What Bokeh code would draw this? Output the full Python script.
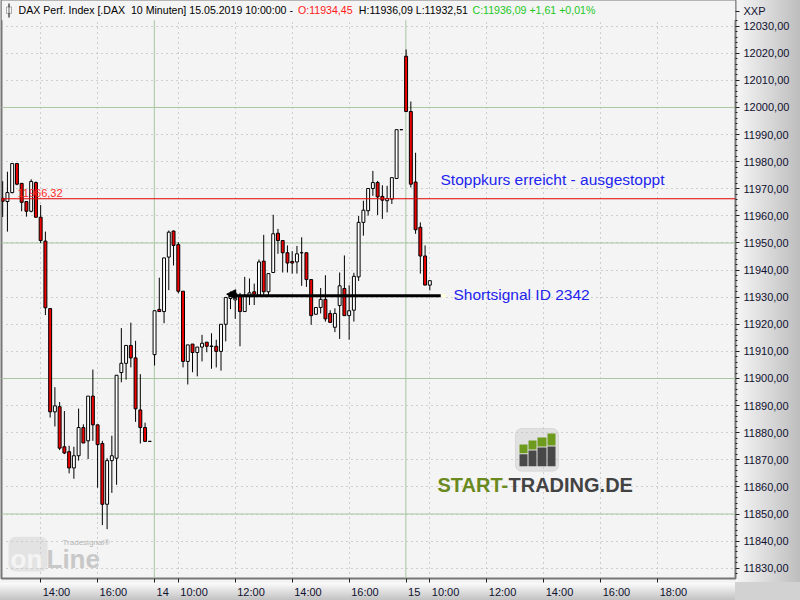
from bokeh.plotting import figure
from bokeh.models import (Range1d, LinearAxis, FixedTicker, Span, Label, BoxAnnotation,
                          ColumnDataSource, Arrow, NormalHead)
from bokeh.embed import file_html
from bokeh.resources import INLINE

# ---------------------------------------------------------------------------
# DAX Perf. Index, 10-minute bars, 13.05.2019 12:40 -> 15.05.2019 10:00
# (bar slots run on without overnight gaps)
# ---------------------------------------------------------------------------
opens = [11966.5, 11965.3, 11968.6, 11979.3, 11972.0, 11965.3, 11961.7, 11972.3, 11959.5, 11950.7,
         11925.8, 11887.7, 11889.6, 11874.8, 11873.0, 11867.0, 11871.5, 11881.9, 11877.0, 11893.5,
         11882.9, 11876.0, 11853.6, 11869.7, 11870.6, 11902.2, 11905.6, 11912.2, 11907.6, 11888.4,
         11881.9, 11876.8,
         11908.8, 11925.5, 11924.7, 11944.8, 11954.4, 11949.4, 11932.2, 11906.3, 11912.7, 11909.6,
         11911.6, 11913.4, 11911.8, 11911.9, 11910.0, 11920.0, 11929.5, 11929.0, 11930.4, 11924.7,
         11930.2, 11932.0, 11930.7, 11943.3, 11932.0, 11939.1, 11953.6, 11950.9, 11946.4, 11943.2,
         11943.0, 11946.4, 11946.4, 11936.5, 11923.7, 11926.2, 11929.2, 11924.0, 11918.9, 11926.9,
         11933.2, 11923.2, 11925.2, 11937.5, 11957.6, 11961.9, 11970.1, 11972.3, 11967.2, 11965.6,
         11966.2, 11973.8, 11991.8,
         12018.9, 11998.5, 11972.5, 11955.8, 11945.2, 11934.45]
highs = [11972.8, 11976.3, 11979.3, 11979.3, 11972.0, 11965.3, 11973.5, 11972.7, 11964.0, 11954.2,
         11925.8, 11896.8, 11891.3, 11888.0, 11875.2, 11874.8, 11888.9, 11883.1, 11893.5, 11903.3,
         11882.9, 11877.0, 11870.6, 11878.9, 11901.2, 11918.6, 11912.2, 11920.6, 11913.9, 11901.6,
         11883.7, 11876.8,
         11925.0, 11937.2, 11944.5, 11954.6, 11954.6, 11950.3, 11932.2, 11912.4, 11912.7, 11911.6,
         11916.1, 11913.4, 11916.7, 11914.3, 11920.0, 11929.9, 11932.1, 11932.5, 11931.6, 11937.5,
         11936.9, 11935.0, 11943.9, 11953.0, 11938.7, 11960.4, 11955.2, 11950.9, 11949.1, 11947.0,
         11948.9, 11952.1, 11946.4, 11936.5, 11926.2, 11933.4, 11938.1, 11925.2, 11925.9, 11939.1,
         11945.4, 11934.4, 11939.0, 11960.0, 11965.6, 11970.1, 11976.6, 11972.9, 11971.3, 11971.1,
         11974.1, 11991.8, 11991.8,
         12021.4, 12002.2, 11983.3, 11957.6, 11949.1, 11936.09]
lows = [11959.6, 11954.2, 11968.3, 11971.3, 11961.7, 11959.7, 11961.3, 11959.5, 11950.0, 11923.4,
        11885.6, 11882.3, 11873.6, 11872.1, 11865.0, 11863.0, 11869.7, 11876.2, 11870.3, 11877.0,
        11859.7, 11845.9, 11844.4, 11857.8, 11860.8, 11898.6, 11899.6, 11904.1, 11884.0, 11876.0,
        11876.8, 11876.8,
        11904.8, 11924.7, 11920.4, 11932.6, 11941.7, 11931.4, 11904.1, 11897.8, 11902.3, 11900.8,
        11906.3, 11909.7, 11903.6, 11904.1, 11902.9, 11913.7, 11925.6, 11922.0, 11911.9, 11924.7,
        11927.1, 11927.1, 11930.7, 11930.7, 11930.7, 11939.1, 11946.0, 11939.1, 11939.1, 11938.7,
        11938.7, 11934.2, 11933.8, 11919.8, 11923.7, 11924.0, 11921.0, 11920.7, 11917.1, 11914.6,
        11923.2, 11914.3, 11921.0, 11936.0, 11952.7, 11960.1, 11967.4, 11960.3, 11958.9, 11961.3,
        11964.4, 11973.8, 11991.8,
        11998.5, 11970.5, 11953.4, 11938.7, 11934.4, 11932.51]
closes = [11965.4, 11968.6, 11979.3, 11971.7, 11965.0, 11961.7, 11972.7, 11959.5, 11950.9, 11926.1,
          11887.7, 11889.9, 11874.3, 11872.5, 11867.0, 11871.5, 11881.9, 11876.2, 11893.5, 11882.9,
          11875.6, 11853.6, 11869.7, 11871.5, 11901.2, 11905.6, 11912.2, 11907.6, 11888.8, 11881.9,
          11876.8, 11876.8,
          11925.0, 11924.7, 11944.5, 11954.0, 11949.1, 11932.2, 11906.3, 11912.4, 11909.6, 11911.6,
          11913.0, 11911.9, 11912.0, 11910.0, 11920.0, 11929.9, 11930.7, 11931.5, 11924.7, 11930.4,
          11931.6, 11931.1, 11943.0, 11932.0, 11938.7, 11953.4, 11950.9, 11946.4, 11942.6, 11942.6,
          11946.0, 11946.4, 11936.5, 11923.2, 11926.2, 11929.2, 11922.0, 11920.7, 11924.0, 11934.2,
          11923.2, 11925.0, 11937.7, 11957.6, 11962.1, 11970.1, 11972.3, 11967.0, 11965.8, 11966.4,
          11974.1, 11991.8, 11991.8,
          11998.5, 11971.7, 11954.9, 11945.2, 11934.48, 11936.09]
slots = list(range(len(opens)))

# time axis (bar slots) and its labels
tick_slots = [8, 20, 32, 37, 49, 61, 73, 85, 90, 102, 114, 126, 138]
tick_labels = ["14:00", "16:00", "14", "10:00", "12:00", "14:00", "16:00", "15",
               "10:00", "12:00", "14:00", "16:00", "18:00"]
day_starts = [32, 85]

# price axis
price_ticks = list(range(11830, 12031, 10))
price_minor = [v for v in range(11828, 12033, 2) if v % 10]
major_levels = [11850, 11900, 11950, 12000]
unit_label = "XXP"

# trade marks
stop_level = 11966.32
short_level = 11930.5
short_from = 47.6
short_to = 92.3

# ---------------------------------------------------------------------------
W, H = 800, 600
FRAME_L, FRAME_T, FRAME_R, FRAME_B = 1, 0, 735, 582
PX_SLOT = 4.746
PX_PT = 2.729
X0 = -0.25
X1 = X0 + (FRAME_R - FRAME_L) / PX_SLOT
Y1 = 12039.47
Y0 = Y1 - (FRAME_B - FRAME_T) / PX_PT


def px_x(px):
    return X0 + (px - FRAME_L) / PX_SLOT


def px_y(py):
    return Y1 - (py - FRAME_T) / PX_PT


def de(v):
    return f"{v:.2f}".replace(".", ",")


FONT = "Liberation Sans"
BG = "#f4f4f4"
GREEN_GRID = "#a9c6a1"
AXIS_TEXT = "#101030"

p = figure(width=W, height=H, x_range=Range1d(X0, X1), y_range=Range1d(Y0, Y1),
           output_backend="svg", toolbar_location=None, x_axis_location=None,
           y_axis_location="right",
           min_border_left=FRAME_L, min_border_right=W - FRAME_R,
           min_border_top=FRAME_T, min_border_bottom=H - FRAME_B)
p.background_fill_color = BG
p.border_fill_alpha = 0
p.outline_line_color = "#767676"
p.outline_line_width = 2
# shaded axis panels behind the transparent border
p.styles = {
    "background-color": "#f4f4f4",
    "background-image": ("linear-gradient(to right, #f6f6f6, #bdbdbd), "
                         "linear-gradient(to bottom, #fbfbfb, #c2c2c2), "
                         "linear-gradient(#d2d2d2, #d2d2d2)"),
    "background-position": "736px 0px, 0px 583px, 735px 582px",
    "background-size": "64px 582px, 735px 17px, 65px 18px",
    "background-repeat": "no-repeat",
}

# right price axis
ya = p.yaxis[0]
ya.ticker = FixedTicker(ticks=price_ticks + [12035.5], minor_ticks=price_minor)
overrides = {t: de(t) for t in price_ticks}
overrides[12035.5] = unit_label
ya.major_label_overrides = overrides
ya.major_label_text_font = FONT
ya.major_label_text_font_size = "11px"
ya.major_label_text_color = AXIS_TEXT
ya.major_label_standoff = 4
ya.major_tick_in = 0
ya.major_tick_out = 4
ya.minor_tick_in = 0
ya.minor_tick_out = 2
ya.major_tick_line_color = "#202020"
ya.minor_tick_line_color = "#202020"
ya.axis_line_color = None


# bottom time axis: labels set just right of their tick marks
def label_width(s):
    return 11 * sum(0.278 if ch == ":" else 0.556 for ch in s)


label_pos = [t + (2 + label_width(s) / 2) / PX_SLOT for t, s in zip(tick_slots, tick_labels)]
xl = LinearAxis(ticker=FixedTicker(ticks=label_pos, minor_ticks=tick_slots),
                major_label_overrides={lp: s for lp, s in zip(label_pos, tick_labels)},
                major_label_text_font=FONT, major_label_text_font_size="11px",
                major_label_text_color=AXIS_TEXT, major_label_standoff=3,
                major_tick_in=0, major_tick_out=0, minor_tick_in=0, minor_tick_out=4,
                minor_tick_line_color="#202020", axis_line_color=None)
p.add_layout(xl, "below")

# grids
p.ygrid.ticker = FixedTicker(ticks=price_ticks)
p.ygrid.grid_line_color = "#a8a8a8"
p.ygrid.grid_line_dash = "1 4"
p.xgrid.ticker = FixedTicker(ticks=[t for t in tick_slots if t not in day_starts])
p.xgrid.grid_line_color = "#a8a8a8"
p.xgrid.grid_line_dash = "1 4"
for lv in major_levels:
    p.add_layout(Span(location=lv, dimension="width", line_color=GREEN_GRID, line_width=1,
                      level="underlay"))
for d in day_starts:
    p.add_layout(Span(location=d - 0.05, dimension="height", line_color=GREEN_GRID,
                      line_width=1, level="underlay"))

# header band sits above the grid
p.add_layout(BoxAnnotation(top=px_y(-2), bottom=px_y(20), fill_color=BG, fill_alpha=1,
                           line_color=None, level="underlay"))

# stop level
p.add_layout(Span(location=stop_level, dimension="width", line_color="#e00000", line_width=1))
p.add_layout(Label(x=px_x(17), y=stop_level, y_offset=2, text=de(stop_level),
                   text_font=FONT, text_font_size="11px", text_color="#ff2a2a",
                   text_baseline="bottom"))

# candles
up = [c >= o for o, c in zip(opens, closes)]
src = ColumnDataSource(dict(
    x=slots, low=lows, high=highs,
    top=[max(o, c) for o, c in zip(opens, closes)],
    bottom=[min(o, c) for o, c in zip(opens, closes)],
    fill=["#ffffff" if u else "#f00000" for u in up],
))
p.segment(x0="x", y0="low", x1="x", y1="high", source=src, line_color="#000000", line_width=1)
p.vbar(x="x", width=0.62, top="top", bottom="bottom", fill_color="fill", line_color="#000000",
       line_width=1, source=src)

# short signal line with entry arrow
p.segment(x0=[short_from], y0=[short_level], x1=[short_to], y1=[short_level],
          line_color="#000000", line_width=3)
p.add_layout(Arrow(end=NormalHead(size=9, fill_color="#000000", line_color="#000000"),
                   x_start=short_from + 1.5, y_start=short_level + 0.6,
                   x_end=short_from - 0.4, y_end=short_level + 0.6,
                   line_color="#000000", line_width=2))
p.scatter(x=[short_to + 0.6], y=[short_level], marker="square", size=4,
          fill_color="#ffffe0", line_color=None)

BLUE = "#2323ee"
p.add_layout(Label(x=px_x(440), y=px_y(180), text="Stoppkurs erreicht - ausgestoppt",
                   text_font=FONT, text_font_size="15.5px", text_color=BLUE,
                   text_baseline="middle"))
p.add_layout(Label(x=px_x(453), y=px_y(296), text="Shortsignal ID 2342",
                   text_font=FONT, text_font_size="15.5px", text_color=BLUE,
                   text_baseline="middle"))


def box(l, t, r, b, color, **kw):
    p.add_layout(BoxAnnotation(left=px_x(l), right=px_x(r), top=px_y(t), bottom=px_y(b),
                               fill_color=color, fill_alpha=1, line_color=None, **kw))


# header line built from the last bar
o, h, l, c = opens[-1], highs[-1], lows[-1], closes[-1]
chg = c - closes[-2]
pct = chg / closes[-2] * 100
header = [
    (18, "DAX Perf. Index [.DAX \u00a010 Minuten] 15.05.2019 10:00:00 -", "#000000"),
    (297.5, f"O:{de(o)}", "#ff1a1a"),
    (358.3, f"H:{de(h)} L:{de(l)}", "#000000"),
    (472, f"C:{de(c)} {'+' if chg >= 0 else ''}{de(chg)} {'+' if pct >= 0 else ''}{de(pct)}%",
     "#1ec81e"),
]
for xpx, txt, col in header:
    p.add_layout(Label(x=px_x(xpx), y=px_y(10), text=txt, text_font=FONT,
                       text_font_size="10.6px", text_color=col, text_baseline="middle"))
# small candle symbol before the header
box(8, 3, 9, 17, "#000000")
p.add_layout(BoxAnnotation(left=px_x(6), right=px_x(11), top=px_y(6.5), bottom=px_y(13),
                           fill_color="#ffffff", line_color="#000000", line_width=1))

# START-TRADING.DE mark
p.add_layout(BoxAnnotation(left=px_x(515), right=px_x(558), top=px_y(431), bottom=px_y(474),
                           fill_color="#c6c6c6", line_color="#b4b4b4", border_radius=6))
bars = [(519, 527, 447, 456), (528, 536, 443, 452), (537, 546, 440, 449), (547, 555, 436, 448)]
for bl, br, gt, dt in bars:
    box(bl, gt, br, dt, "#6e9a1e")
    box(bl, dt + 1, br, 469, "#484848")
p.add_layout(Label(x=px_x(437), y=px_y(488), text="START-", text_font=FONT,
                   text_font_size="20px", text_font_style="bold", text_color="#6a8a1f",
                   text_baseline="middle"))
p.add_layout(Label(x=px_x(508), y=px_y(488), text="TRADING.DE", text_font=FONT,
                   text_font_size="20px", text_font_style="bold", text_color="#434343",
                   text_baseline="middle"))

# Tradesignal online mark
p.add_layout(BoxAnnotation(left=px_x(8), right=px_x(47), top=px_y(540), bottom=px_y(575),
                           fill_color="#cbcbcb", line_color=None, border_radius=7))
p.add_layout(Label(x=px_x(10), y=px_y(562), text="on", text_font=FONT, text_font_size="26px",
                   text_font_style="bold", text_color="#f4f4f4", text_baseline="middle"))
p.add_layout(Label(x=px_x(46), y=px_y(562), text="Line", text_font=FONT, text_font_size="26px",
                   text_font_style="bold", text_color="#c8c8c8", text_baseline="middle"))
p.add_layout(Label(x=px_x(62), y=px_y(546), text="Tradesignal®", text_font=FONT,
                   text_font_size="8px", text_color="#b4b4b4", text_baseline="middle"))

open("out.html", "w").write(file_html(p, INLINE))
